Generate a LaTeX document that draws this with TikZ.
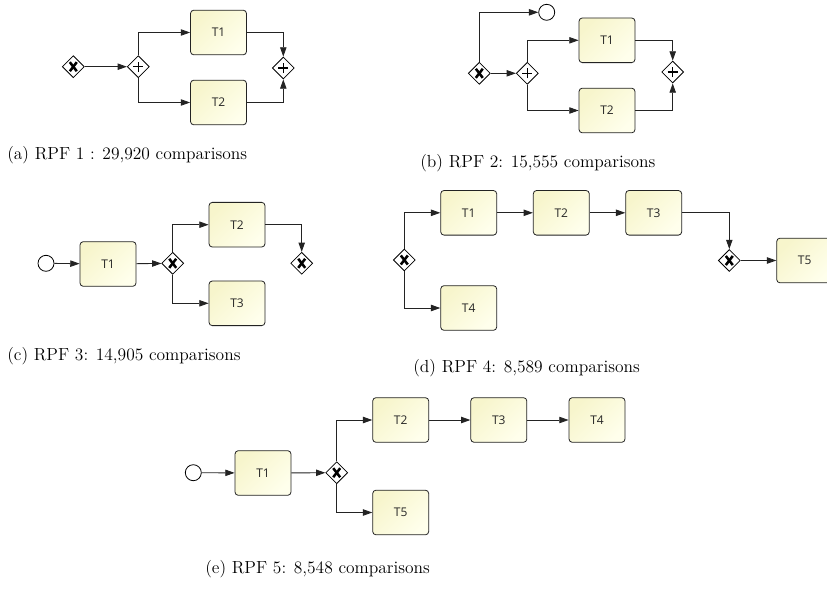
\documentclass[tikz,border=0pt]{standalone}
\usepackage{fontspec}
\newfontfamily\taskfont{Open Sans}
\usetikzlibrary{shapes.geometric,arrows.meta}
\definecolor{taskA}{RGB}{247,245,204}
\definecolor{taskB}{RGB}{255,255,236}
\definecolor{edge}{RGB}{35,35,35}
\tikzset{
  task/.style={rectangle, rounded corners=2.5pt, draw=edge, line width=0.6pt,
    top color=taskA, bottom color=taskB, shading angle=45,
    minimum width=42pt, minimum height=33.5pt, inner sep=0pt,
    font=\taskfont\fontsize{9}{10}\selectfont, text=black!85},
  gw/.style={diamond, draw=black, fill=white, line width=0.6pt,
    minimum width=16.5pt, minimum height=16.5pt, inner sep=0pt},
  xorgw/.style={gw, path picture={
    \draw[line width=1.9pt] ([xshift=-2.6pt,yshift=-3.4pt]path picture bounding box.center)
      -- ([xshift=2.6pt,yshift=3.4pt]path picture bounding box.center);
    \draw[line width=1.9pt] ([xshift=-2.6pt,yshift=3.4pt]path picture bounding box.center)
      -- ([xshift=2.6pt,yshift=-3.4pt]path picture bounding box.center);}},
  andgw/.style={gw, path picture={
    \draw[line width=0.8pt] ([xshift=-3.8pt]path picture bounding box.center)
      -- ([xshift=3.8pt]path picture bounding box.center);
    \draw[line width=0.8pt] ([yshift=-3.8pt]path picture bounding box.center)
      -- ([yshift=3.8pt]path picture bounding box.center);}},
  startev/.style={circle, draw=black, fill=white, line width=0.6pt,
    minimum size=12pt, inner sep=0pt},
  flow/.style={draw=edge, line width=0.65pt,
    -{Triangle[length=7pt,width=4.8pt]}},
  caption/.style={anchor=west, inner sep=0pt, font=\fontsize{13.1}{15}\selectfont}
}
\begin{document}
\begin{tikzpicture}[x=0.75pt, y=-0.75pt]
\useasboundingbox (0,0) rectangle (827,589);
\clip (0,0) rectangle (827,589);

% (a) parallel split and join
\node[xorgw]  (ax)  at (73.3,66.7) {};
\node[andgw]  (ap)  at (138.3,66.7) {};
\node[task]   (at1) at (218.5,32.5) {T1};
\node[task]   (at2) at (218.5,102.5) {T2};
\node[andgw]  (aj)  at (283.3,68) {};
\draw[flow] (ax) -- (ap);
\draw[flow] (ap.north) |- (at1.west);
\draw[flow] (ap.south) |- (at2.west);
\draw[flow] (at1.east) -| (aj.north);
\draw[flow] (at2.east) -| (aj.south);
\node[caption] (capa) at (7,155) {(a) RPF 1 : 29,920 comparisons};

% (b) choice with an early end
\node[xorgw]   (bx)  at (479.3,73.3) {};
\node[andgw]   (bp)  at (527.3,73.3) {};
\node[startev] (bc)  at (546.7,12.3) {};
\node[task]    (bt1) at (607,40.3) {T1};
\node[task]    (bt2) at (607,110.5) {T2};
\node[andgw]   (bj)  at (672.7,72) {};
\draw[flow] (bx.north) |- (bc.west);
\draw[flow] (bx) -- (bp);
\draw[flow] (bp.north) |- (bt1.west);
\draw[flow] (bp.south) |- (bt2.west);
\draw[flow] (bt1.east) -| (bj.north);
\draw[flow] (bt2.east) -| (bj.south);
\node[caption] (capb) at (420,163) {(b) RPF 2: 15,555 comparisons};

% (c) exclusive choice after T1
\node[startev] (cc)  at (46,263.3) {};
\node[task]    (ct1) at (108,264) {T1};
\node[xorgw]   (cx)  at (172.7,263.3) {};
\node[task]    (ct2) at (237,224.7) {T2};
\node[task]    (ct3) at (237,303.3) {T3};
\node[xorgw]   (ce)  at (301.7,263.3) {};
\draw[flow] (cc) -- (ct1);
\draw[flow] (ct1) -- (cx);
\draw[flow] (cx.north) |- (ct2.west);
\draw[flow] (cx.south) |- (ct3.west);
\draw[flow] (ct2.east) -| (ce.north);
\node[caption] (capc) at (7,356) {(c) RPF 3: 14,905 comparisons};

% (d) sequence T1-T2-T3 or T4
\node[xorgw] (dx)  at (404.3,260) {};
\node[task]  (dt1) at (468.7,212.8) {T1};
\node[task]  (dt2) at (561.3,212.8) {T2};
\node[task]  (dt3) at (653.7,212.8) {T3};
\node[xorgw] (dx2) at (729.3,260.5) {};
\node[task]  (dt5) at (804.7,260.5) {T5};
\node[task]  (dt4) at (468.7,308) {T4};
\draw[flow] (dx.north) |- (dt1.west);
\draw[flow] (dx.south) |- (dt4.west);
\draw[flow] (dt1) -- (dt2);
\draw[flow] (dt2) -- (dt3);
\draw[flow] (dt3.east) -| (dx2.north);
\draw[flow] (dx2) -- (dt5);
\node[caption] (capd) at (413,368) {(d) RPF 4: 8,589 comparisons};

% (e) T1 then T2-T3-T4 or T5
\node[startev] (ec)  at (193.3,472.7) {};
\node[task]    (et1) at (263,473) {T1};
\node[xorgw]   (ex)  at (336.7,472.7) {};
\node[task]    (et2) at (400.7,420) {T2};
\node[task]    (et3) at (498.8,420) {T3};
\node[task]    (et4) at (597,420) {T4};
\node[task]    (et5) at (400.7,512.5) {T5};
\draw[flow] (ec) -- (et1);
\draw[flow] (et1) -- (ex);
\draw[flow] (ex.north) |- (et2.west);
\draw[flow] (ex.south) |- (et5.west);
\draw[flow] (et2) -- (et3);
\draw[flow] (et3) -- (et4);
\node[caption] (cape) at (205,569) {(e) RPF 5: 8,548 comparisons};
\end{tikzpicture}
\end{document}
